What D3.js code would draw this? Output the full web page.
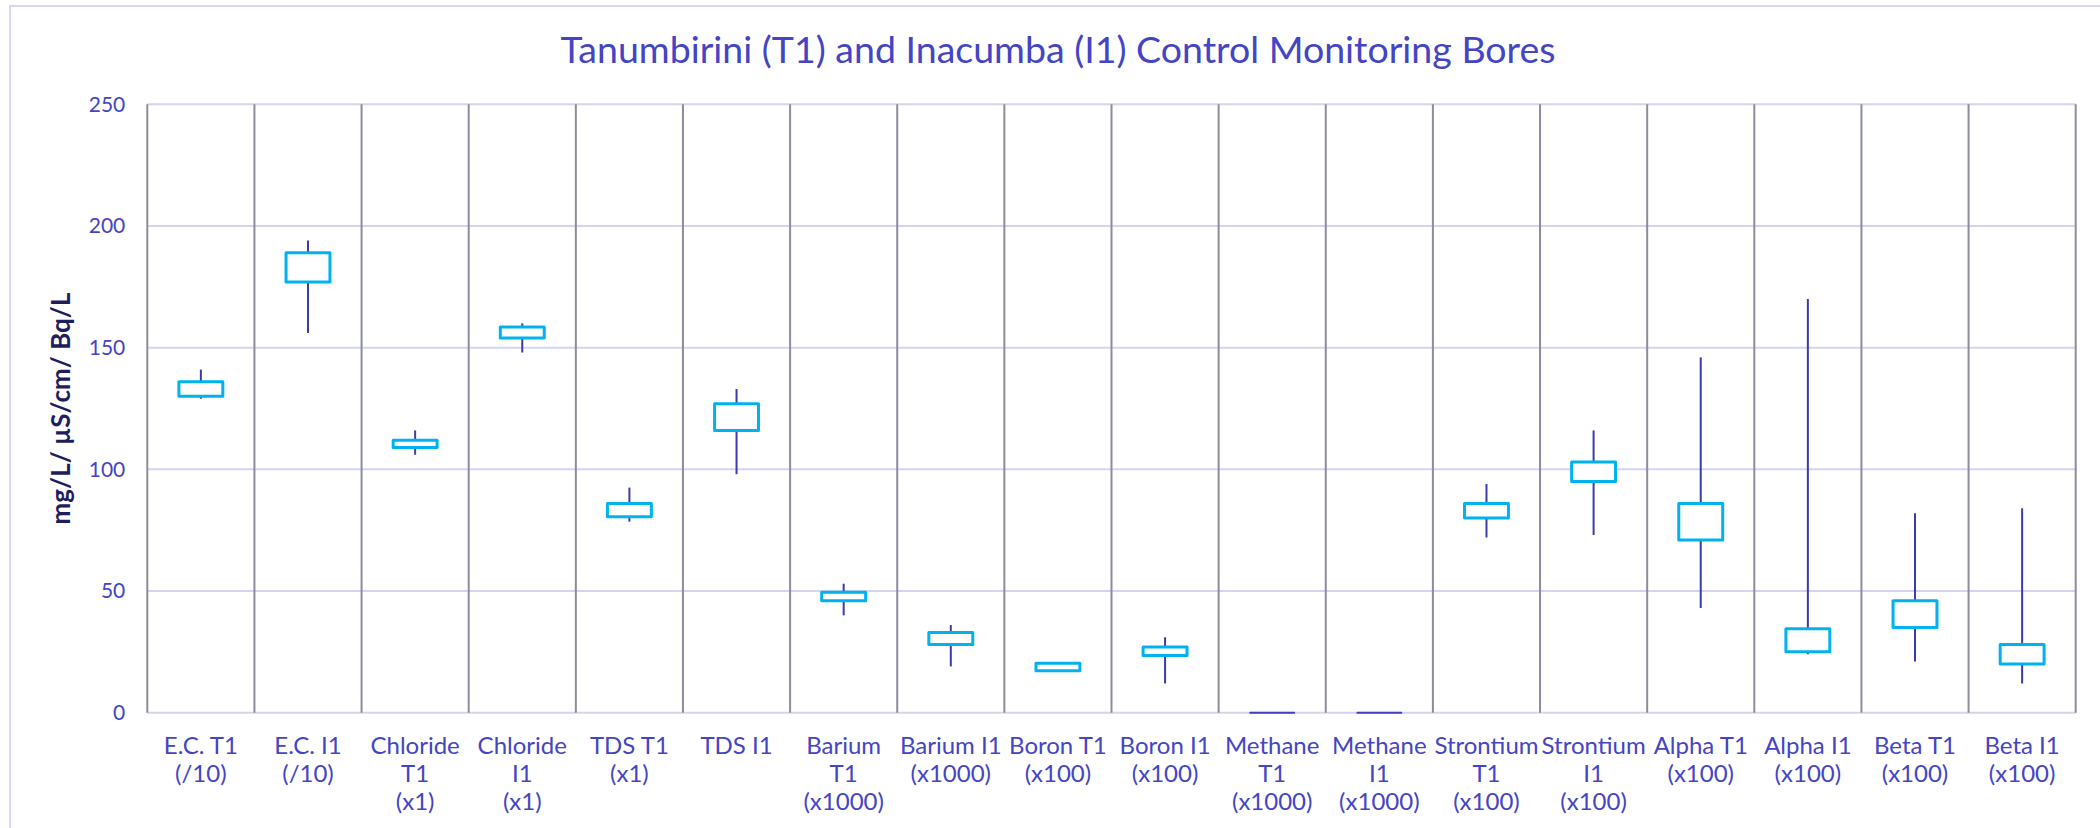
<!DOCTYPE html>
<html>
<head>
<meta charset="utf-8">
<script src="https://cdn.jsdelivr.net/npm/d3@7"></script>
<style>
  body { margin: 0; background: #fff; }
  svg { display: block; font-family: Lato, "Open Sans", sans-serif; }
</style>
</head>
<body>
<svg id="chart"></svg>
<script>
// categories and their wrapped axis labels
const categories = ["ECT1","ECI1","ClT1","ClI1","TDST1","TDSI1","BaT1","BaI1","BT1","BI1","MeT1","MeI1","SrT1","SrI1","AlT1","AlI1","BeT1","BeI1"];
const labelLines = [
  ["E.C. T1","(/10)"], ["E.C. I1","(/10)"], ["Chloride","T1","(x1)"], ["Chloride","I1","(x1)"],
  ["TDS T1","(x1)"], ["TDS I1"], ["Barium","T1","(x1000)"], ["Barium I1","(x1000)"],
  ["Boron T1","(x100)"], ["Boron I1","(x100)"], ["Methane","T1","(x1000)"], ["Methane","I1","(x1000)"],
  ["Strontium","T1","(x100)"], ["Strontium","I1","(x100)"], ["Alpha T1","(x100)"], ["Alpha I1","(x100)"],
  ["Beta T1","(x100)"], ["Beta I1","(x100)"]
];

// values
const lows  = [129, 156, 106, 148, 78.5, 98, 40, 19, 17, 12, 0, 0, 72, 73, 43, 24, 21, 12];
const q1s   = [130, 177, 109, 154, 80.5, 116, 46, 28, 17.2, 23.5, 0, 0, 80, 95, 71, 25, 35, 20];
const q3s   = [136, 189, 112, 158.5, 86, 127, 49.5, 33, 20.3, 27, 0, 0, 86, 103, 86, 34.5, 46, 28];
const highs = [141, 194, 116, 160, 92.5, 133, 53, 36, 20.8, 31, 0, 0, 94, 116, 146, 170, 82, 84];

const yTicks = [0, 50, 100, 150, 200, 250];

const W = 2100, H = 828;
const margin = {top: 104.3, right: 24.3, bottom: 115.3, left: 147.3};

const svg = d3.select("#chart").attr("width", W).attr("height", H);

// chart area border
svg.append("rect")
  .attr("x", 10).attr("y", 6)
  .attr("width", 2200).attr("height", 900)
  .attr("fill", "#fff")
  .attr("stroke", "#d6d6f2").attr("stroke-width", 2);

const data = categories.map((c, i) => ({key: c, lines: labelLines[i], low: lows[i], q1: q1s[i], q3: q3s[i], high: highs[i]}));

const xScale = d3.scaleBand()
  .domain(categories)
  .range([margin.left, W - margin.right])
  .padding(0);

const yScale = d3.scaleLinear()
  .domain([0, 250])
  .range([H - margin.bottom, margin.top]);

// horizontal gridlines
svg.append("g")
  .selectAll("line")
  .data(yTicks)
  .join("line")
  .attr("x1", margin.left).attr("x2", W - margin.right)
  .attr("y1", d => yScale(d)).attr("y2", d => yScale(d))
  .attr("stroke", "#d4d4f0").attr("stroke-width", 2);

// vertical separators between categories
const edges = categories.map(c => xScale(c)).concat([xScale.range()[1]]);
svg.append("g")
  .selectAll("line")
  .data(edges)
  .join("line")
  .attr("x1", d => d).attr("x2", d => d)
  .attr("y1", yScale(250)).attr("y2", yScale(0))
  .attr("stroke", "#8d8c9e").attr("stroke-width", 2);

// y axis
const yAxis = d3.axisLeft(yScale).tickValues(yTicks).tickSize(0).tickPadding(22);
const yAxisG = svg.append("g")
  .attr("transform", `translate(${margin.left},0)`)
  .call(yAxis);
yAxisG.select(".domain").remove();
yAxisG.selectAll("text")
  .attr("fill", "#4444c4")
  .style("font-size", "21px")
  .style("font-family", "Lato, sans-serif");

// x axis labels (wrapped)
const xAxis = d3.axisBottom(xScale).tickSize(0).tickFormat("");
const xAxisG = svg.append("g")
  .attr("transform", `translate(0,${yScale(0)})`)
  .call(xAxis);
xAxisG.select(".domain").remove();
xAxisG.selectAll(".tick").each(function(d, i) {
  const t = d3.select(this).append("text")
    .attr("fill", "#4444c4")
    .attr("text-anchor", "middle")
    .style("font-size", "24px")
    .style("font-family", "Lato, sans-serif");
  labelLines[i].forEach((line, j) => {
    t.append("tspan").attr("x", 0).attr("y", 41 + j * 28.4).text(line);
  });
});

// whiskers
const cx = d => xScale(d.key) + xScale.bandwidth() / 2;
const boxW = xScale.bandwidth() * 0.41;

svg.append("g")
  .selectAll("line")
  .data(data.filter(d => d.high > d.low))
  .join("line")
  .attr("x1", cx).attr("x2", cx)
  .attr("y1", d => yScale(d.high)).attr("y2", d => yScale(d.low))
  .attr("stroke", "#3b3bab").attr("stroke-width", 2);

// boxes (paths, so flat boxes still draw as a line)
svg.append("g")
  .selectAll("path")
  .data(data)
  .join("path")
  .attr("d", d => {
    const x0 = cx(d) - boxW / 2, x1 = cx(d) + boxW / 2;
    const yt = yScale(d.q3), yb = yScale(d.q1);
    return `M${x0},${yt}H${x1}V${yb}H${x0}Z`;
  })
  .attr("fill", "#fff")
  .attr("stroke-linejoin", "round")
  .attr("stroke", d => d.q3 > d.q1 ? "#00b2ef" : "#4040c0")
  .attr("stroke-width", d => d.q3 > d.q1 ? 3 : 2);

// title
svg.append("text")
  .attr("x", 1058).attr("y", 62.5)
  .attr("text-anchor", "middle")
  .attr("fill", "#4444c4")
  .style("font-size", "37.5px")
  .style("font-family", "Lato, sans-serif")
  .text("Tanumbirini (T1) and Inacumba (I1) Control Monitoring Bores");

// y axis title
svg.append("text")
  .attr("transform", `translate(70,${(yScale(0) + yScale(250)) / 2}) rotate(-90)`)
  .attr("text-anchor", "middle")
  .attr("fill", "#1e1e5e")
  .style("font-size", "26px")
  .style("font-weight", "bold")
  .style("font-family", "Lato, sans-serif")
  .text("mg/L/ µS/cm/ Bq/L");
</script>
</body>
</html>
